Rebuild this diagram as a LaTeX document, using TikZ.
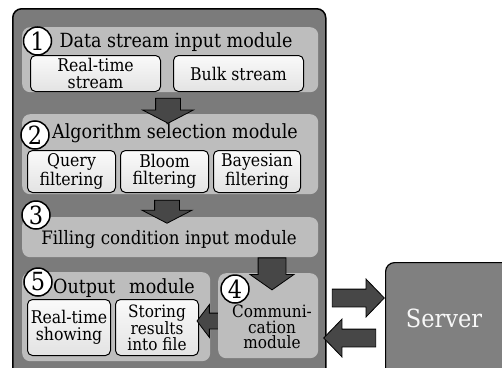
\documentclass[tikz,border=0pt]{standalone}
\usepackage{fontspec}
\setmainfont{DejaVu Serif Condensed}
\usepackage{tikz}
\usetikzlibrary{shapes.arrows,calc,positioning}
\definecolor{outergray}{HTML}{7B7B7B}
\definecolor{panelgray}{HTML}{BDBDBD}
\definecolor{arrowgray}{HTML}{474747}
\definecolor{servergray}{HTML}{808080}
\begin{document}
\begin{tikzpicture}[x=1pt,y=-1pt,
  panel/.style={fill=panelgray,rounded corners=8pt,inner sep=0pt,anchor=north west},
  subbox/.style={draw=black,line width=1pt,top color=gray!4,bottom color=gray!22,rounded corners=5pt,
    inner sep=0pt,anchor=north west,align=center,font=\fontsize{17.5}{17}\selectfont},
  numcirc/.style={circle,draw=black,line width=1.5pt,fill=white,inner sep=0pt,minimum size=28pt,
    font=\fontsize{25}{25}\selectfont},
  title/.style={font=\fontsize{19.5}{19.5}\selectfont},
  blockarrow/.style={single arrow,draw=black,line width=0.8pt,fill=arrowgray,inner xsep=0pt}]
\useasboundingbox (0,0) rectangle (502,367);
\clip (0,0) rectangle (502,367);
% outer frame
\node[draw=black,line width=1.5pt,fill=outergray,rounded corners=9pt,anchor=north west,
  minimum width=313pt,minimum height=370pt,inner sep=0pt] (outer) at (12,8) {};
% module 1
\node[panel,minimum width=296pt,minimum height=65pt] (m1) at (22,27) {};
\node[title] (t1) at (176,42) {Data stream input module};
\node[numcirc] (c1) at (37.5,41) {1};
\node[subbox,minimum width=130pt,minimum height=36pt] (rts) at (30,55) {Real-time\\stream};
\node[subbox,minimum width=130pt,minimum height=36pt] (bulk) at (173,55) {Bulk stream};
% module 2
\node[panel,minimum width=296pt,minimum height=80pt] (m2) at (22,114) {};
\node[title] (t2) at (175,133) {Algorithm selection module};
\node[numcirc] (c2) at (35,135) {2};
\node[subbox,minimum width=88pt,minimum height=42pt] (query) at (27,150) {Query\\filtering};
\node[subbox,minimum width=88pt,minimum height=42pt] (bloom) at (120,150) {Bloom\\filtering};
\node[subbox,minimum width=87pt,minimum height=42pt] (bayes) at (213,150) {Bayesian\\filtering};
% module 3
\node[panel,minimum width=296pt,minimum height=40pt] (m3) at (22,217) {};
\node[title,font=\fontsize{18.5}{18.5}\selectfont] (t3) at (169,240) {Filling condition input module};
\node[numcirc] (c3) at (36,215) {3};
% module 5
\node[panel,minimum width=188pt,minimum height=89pt] (m5) at (22,272) {};
\node[title] (t5) at (124,288) {Output\hspace{0.7em}module};
\node[numcirc] (c5) at (38,282) {5};
\node[subbox,minimum width=83pt,minimum height=56pt] (show) at (27,299) {Real-time\\showing};
\node[subbox,minimum width=83pt,minimum height=56pt,font=\fontsize{17}{15.5}\selectfont] (store) at (115,299) {Storing\\results\\into file};
% arrow 4 -> 5
\node[blockarrow,rotate=180,minimum height=22pt,inner ysep=7.5pt,
  single arrow head extend=8.5pt,single arrow tip angle=106] (ar45) at (211,321) {};
% module 4
\node[panel,minimum width=100pt,minimum height=85pt] (m4) at (218,273) {};
\node[align=center,font=\fontsize{17}{15.5}\selectfont] (t4) at (272,327) {Communi-\\cation\\module};
\node[numcirc] (c4) at (235,289) {4};
% arrows between modules
\node[blockarrow,rotate=-90,minimum height=25pt,inner ysep=12pt,
  single arrow head extend=13pt,single arrow tip angle=125] (ar12) at (168,107.5) {};
\node[blockarrow,rotate=-90,minimum height=23pt,inner ysep=12pt,
  single arrow head extend=12.5pt,single arrow tip angle=125] (ar23) at (167,208.5) {};
\node[blockarrow,rotate=-90,minimum height=32pt,inner ysep=13.5pt,
  single arrow head extend=8pt,single arrow tip angle=110] (ar34) at (272,269) {};
% server
\node[draw=black,line width=1.2pt,fill=servergray,rounded corners=9pt,anchor=north west,
  minimum width=140pt,minimum height=120pt,inner sep=0pt] (server) at (385,262) {};
\node[text=white!94!gray,font=\fontsize{25}{25}\selectfont] (st) at (444,318) {Server};
\node[blockarrow,minimum height=52pt,inner ysep=8.5pt,single arrow head extend=10pt,
  single arrow tip angle=92] (arout) at (354,298) {};
\node[blockarrow,rotate=180,minimum height=52pt,inner ysep=8.5pt,single arrow head extend=10pt,
  single arrow tip angle=92] (arin) at (354,338) {};
\end{tikzpicture}
\end{document}
